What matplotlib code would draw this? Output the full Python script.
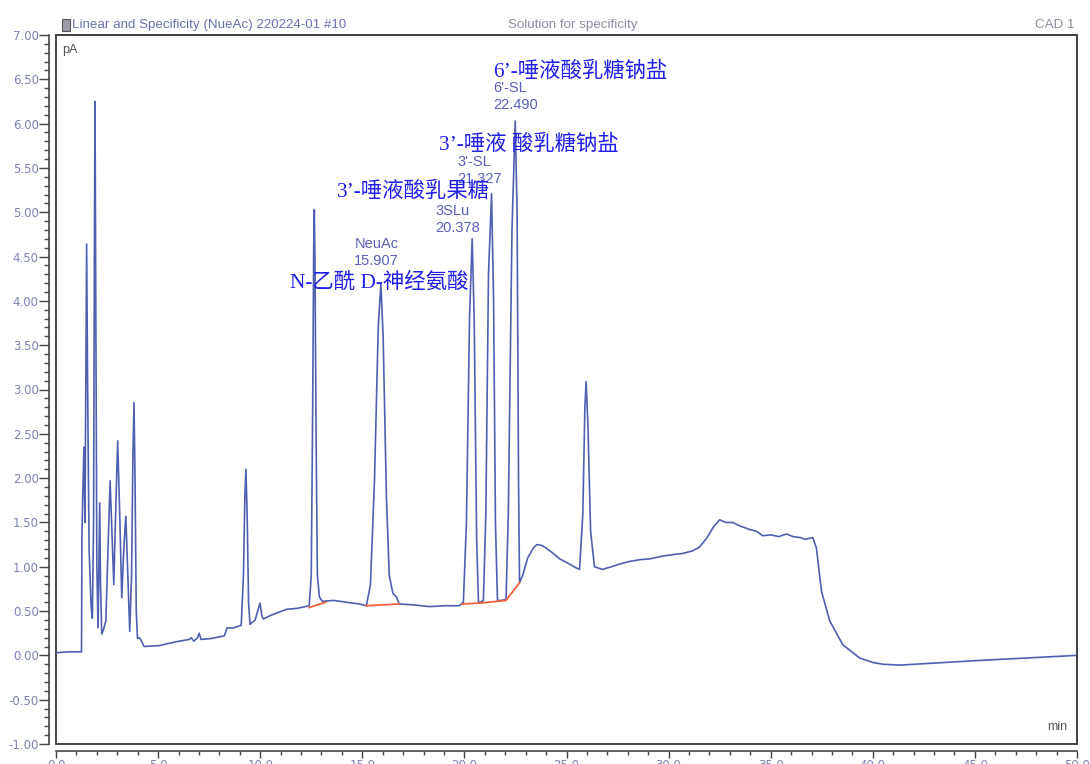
"""
Chromatogram (CAD detector) with peak labels, redrawn with matplotlib.
"""
import matplotlib
matplotlib.use("Agg")
import matplotlib.pyplot as plt
from matplotlib.patches import Rectangle
from matplotlib.ticker import MultipleLocator, FormatStrFormatter

# retention time (min) and detector signal (pA)
time_min = [
    0.00, 0.60, 1.25, 1.27, 1.33, 1.37, 1.42, 1.47, 1.50, 1.55, 1.62, 1.72,
    1.78, 1.84, 1.88, 1.91, 1.95, 2.00, 2.06, 2.10, 2.14, 2.18, 2.24, 2.34,
    2.44, 2.55, 2.65, 2.74, 2.83, 2.92, 3.02, 3.12, 3.22, 3.32, 3.42, 3.52,
    3.61, 3.70, 3.77, 3.82, 3.87, 3.93, 3.99, 4.07, 4.15, 4.31, 5.05, 5.80,
    6.52, 6.62, 6.75, 6.93, 7.01, 7.10, 7.60, 8.24, 8.38, 8.70, 9.07, 9.18,
    9.25, 9.30, 9.36, 9.43, 9.50, 9.75, 9.90, 9.99, 10.08, 10.15, 10.50, 10.83,
    11.30, 11.80, 12.20, 12.40, 12.50, 12.57, 12.62, 12.65, 12.68, 12.74, 12.80, 12.90,
    13.04, 13.60, 14.20, 14.85, 15.20, 15.40, 15.60, 15.78, 15.91, 16.02, 16.18, 16.32,
    16.50, 16.67, 16.81, 17.50, 18.30, 19.00, 19.75, 19.95, 20.10, 20.25, 20.38, 20.48,
    20.60, 20.69, 20.80, 20.93, 21.05, 21.18, 21.33, 21.43, 21.52, 21.62, 21.80, 22.04,
    22.15, 22.33, 22.49, 22.58, 22.65, 22.70, 22.85, 23.10, 23.40, 23.55, 23.80, 24.00,
    24.30, 24.66, 25.15, 25.45, 25.64, 25.80, 25.90, 25.96, 26.05, 26.18, 26.37, 26.76,
    27.20, 27.60, 28.09, 28.60, 29.10, 29.71, 30.30, 30.70, 31.18, 31.50, 31.86, 32.20,
    32.50, 32.80, 33.14, 33.50, 33.97, 34.30, 34.61, 35.00, 35.40, 35.77, 36.10, 36.42,
    36.70, 37.06, 37.24, 37.49, 37.89, 38.53, 39.36, 40.00, 40.49, 41.32, 45.00, 50.00,
]
signal_pa = [
    0.03, 0.04, 0.04, 1.36, 2.00, 2.35, 1.50, 3.50, 4.64, 3.00, 1.20, 0.55,
    0.42, 1.50, 4.50, 6.25, 4.00, 1.00, 0.31, 1.00, 1.72, 0.80, 0.24, 0.30,
    0.39, 1.20, 1.97, 1.40, 0.80, 1.60, 2.42, 1.60, 0.65, 1.20, 1.57, 0.90,
    0.27, 0.90, 2.30, 2.85, 2.00, 0.50, 0.19, 0.20, 0.18, 0.10, 0.11, 0.15,
    0.18, 0.20, 0.16, 0.20, 0.25, 0.18, 0.19, 0.22, 0.31, 0.31, 0.34, 0.90,
    1.80, 2.10, 1.60, 0.60, 0.35, 0.40, 0.52, 0.59, 0.45, 0.41, 0.45, 0.48,
    0.52, 0.53, 0.55, 0.56, 0.90, 2.80, 4.60, 5.03, 4.50, 2.40, 0.90, 0.66,
    0.61, 0.62, 0.60, 0.58, 0.56, 0.80, 2.00, 3.70, 4.19, 3.60, 1.80, 0.90,
    0.70, 0.66, 0.58, 0.57, 0.55, 0.56, 0.56, 0.60, 1.50, 3.80, 4.70, 3.80,
    1.30, 0.60, 0.60, 0.62, 1.60, 4.30, 5.21, 4.00, 1.50, 0.62, 0.62, 0.63,
    1.60, 4.80, 6.03, 5.00, 2.00, 0.82, 0.90, 1.10, 1.22, 1.25, 1.24, 1.21,
    1.16, 1.09, 1.03, 0.99, 0.97, 1.60, 2.80, 3.09, 2.60, 1.40, 1.00, 0.97,
    1.00, 1.03, 1.06, 1.08, 1.09, 1.12, 1.14, 1.15, 1.18, 1.22, 1.32, 1.45,
    1.53, 1.50, 1.50, 1.46, 1.42, 1.40, 1.35, 1.36, 1.34, 1.37, 1.34, 1.33,
    1.31, 1.33, 1.21, 0.72, 0.39, 0.12, -0.03, -0.08, -0.10, -0.11, -0.06, 0.00,
]

# integration baselines (orange)
baseline_segments = [
    ([12.40, 13.21], [0.54, 0.60]),
    ([15.18, 16.81], [0.56, 0.58]),
    ([19.90, 20.74, 22.04, 22.70], [0.58, 0.59, 0.62, 0.82]),
]

# software peak labels: name, retention time
peak_names = ["NeuAc", "3SLu", "3'-SL", "6'-SL"]
peak_times = ["15.907", "20.378", "21.327", "22.490"]
peak_label_pos = [(14.61, 4.64), (18.58, 5.01), (19.66, 5.57), (21.42, 6.40)]

# added Chinese peak names
cn_labels = ["N-乙酰 D-神经氨酸", "3’-唾液酸乳果糖", "3’-唾液 酸乳糖钠盐", "6’-唾液酸乳糖钠盐"]
cn_label_pos = [(11.47, 4.21), (13.77, 5.23), (18.77, 5.76), (21.42, 6.59)]

trace_color = "#5060b0"
tick_color = "#7c82b4"
frame_color = "#444444"

fig = plt.figure(figsize=(10.9, 7.64), dpi=100)
ax = fig.add_axes([56 / 1090, 20 / 764, 1021 / 1090, 709 / 764])

ax.plot(time_min, signal_pa, color=trace_color, lw=1.2)
for xs, ys in baseline_segments:
    ax.plot(xs, ys, color="#f0603a", lw=1.3)

ax.set_xlim(0, 50)
ax.set_ylim(-1, 7)

# offset axes plus a closed frame like the instrument printout
for side in ["left", "bottom"]:
    ax.spines[side].set_position(("outward", 5))
for side in ax.spines:
    ax.spines[side].set_color(frame_color)
    ax.spines[side].set_linewidth(1.2)
ax.add_patch(Rectangle((0, 0), 1, 1, transform=ax.transAxes, fill=False,
                       edgecolor=frame_color, lw=1.4, clip_on=False))

ax.xaxis.set_major_locator(MultipleLocator(5))
ax.xaxis.set_minor_locator(MultipleLocator(1))
ax.yaxis.set_major_locator(MultipleLocator(0.5))
ax.yaxis.set_minor_locator(MultipleLocator(0.1))
ax.xaxis.set_major_formatter(FormatStrFormatter("%.1f"))
ax.yaxis.set_major_formatter(FormatStrFormatter("%.2f"))
ax.tick_params(which="major", length=7, width=1, color=frame_color,
               labelcolor=tick_color, labelsize=8.5, pad=0.5)
ax.tick_params(which="minor", length=3.5, width=1, color=frame_color)
ax.tick_params(axis="x", which="major", length=5)
ax.tick_params(axis="x", which="minor", length=3)

for name, rt, (x, y) in zip(peak_names, peak_times, peak_label_pos):
    ax.text(x, y, name, color="#5a60b8", fontsize=10.5, family="Liberation Sans",
            va="center", ha="left")
    ax.text(x, y - 0.19, rt, color="#5a60b8", fontsize=10.5, family="Liberation Sans",
            va="center", ha="left")

for label, (x, y) in zip(cn_labels, cn_label_pos):
    ax.text(x, y, label, color="#2020e8", fontsize=15.4,
            family=["Liberation Serif", "Noto Sans CJK SC"], va="center", ha="left")

ax.text(0.006, 0.988, "pA", transform=ax.transAxes, color="#555555",
        fontsize=9, family="Liberation Sans", va="top", ha="left")
ax.text(0.99, 0.015, "min", transform=ax.transAxes, color="#555555",
        fontsize=9, family="Liberation Sans", va="bottom", ha="right")

# header line
fig.add_artist(Rectangle((62 / 1090, 1 - 31 / 764), 8 / 1090, 12 / 764,
                         transform=fig.transFigure, facecolor="#9a9aa8",
                         edgecolor="#555555", lw=0.8))
fig.text(72 / 1090, 1 - 25 / 764, "Linear and Specificity (NueAc) 220224-01 #10",
         color="#6a70b0", fontsize=9.6, family="Liberation Sans", va="center", ha="left")
fig.text(573 / 1090, 1 - 25 / 764, "Solution for specificity",
         color="#8a8c9c", fontsize=9.6, family="Liberation Sans", va="center", ha="center")
fig.text(1074 / 1090, 1 - 25 / 764, "CAD 1",
         color="#8a8c9c", fontsize=9.6, family="Liberation Sans", va="center", ha="right")

fig.savefig("out.png", dpi=100)
